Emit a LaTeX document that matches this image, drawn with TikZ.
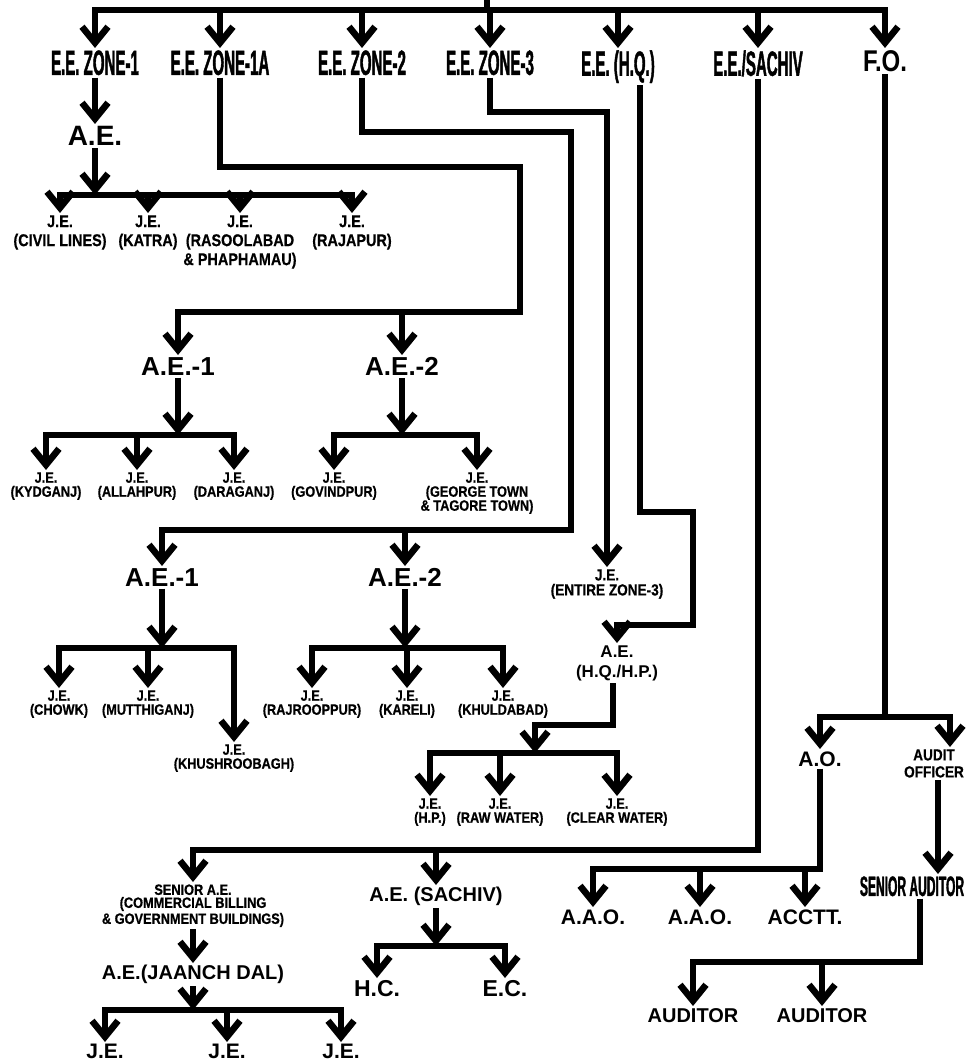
\documentclass[tikz,border=0pt]{standalone}
\usepackage{fontspec}
\setmainfont{Liberation Sans}
\newfontfamily\condfont{Liberation Sans}[FakeStretch=0.43, FakeBold=1.2]
\newfontfamily\slimfont{Liberation Sans}[FakeStretch=0.85, FakeBold=0.6]
\newfontfamily\fofont{Liberation Sans}[FakeStretch=0.8]
\usetikzlibrary{arrows.meta}
\tikzset{
    zonebox/.style = {
        font=\condfont\bfseries\fontsize{17.5}{18}\selectfont,
        anchor=north, inner sep=1pt
    },
    aebox/.style = {
        font=\bfseries\fontsize{13}{14}\selectfont,
        anchor=north, inner sep=1pt
    },
    postbox/.style = {
        font=\bfseries\fontsize{10.5}{11}\selectfont,
        anchor=north, inner sep=1pt
    },
    jebox/.style = {
        font=\slimfont\bfseries\fontsize{7.5}{7}\selectfont,
        anchor=north, inner sep=1pt, align=center
    },
    jebig/.style = {
        jebox, font=\slimfont\bfseries\fontsize{8.5}{9.5}\selectfont
    },
    arrow/.style = {
        -{Straight Barb[length=8pt, width=13pt]}, line width=3.3pt
    }
}

\begin{document}
\begin{tikzpicture}[x=0.5pt, y=-0.5pt]

\fill [white] (0,0) rectangle (974,1064);
\useasboundingbox (0,0) rectangle (974,1064);

% first row
\coordinate (head) at (487,0);
\node (z1) [zonebox] at (95,48) {E.E. ZONE-1};
\node (z1a) [zonebox] at (220,48) {E.E. ZONE-1A};
\node (z2) [zonebox] at (362,48) {E.E. ZONE-2};
\node (z3) [zonebox] at (490,48) {E.E. ZONE-3};
\node (hq) [zonebox] at (618,48) {E.E. (H.Q.)};
\node (sachiv) [zonebox] at (758,48) {E.E./SACHIV};
\node (fo) [zonebox, font=\fofont\bfseries\fontsize{15}{16}\selectfont] at (885,48) {F.O.};
\foreach \n in {z1,z1a,z2,z3,hq,sachiv,fo}
    \draw [arrow] (head) -- ++(0,10) -| (\n.north);

% zone 1
\node (ae1) [aebox, font=\bfseries\fontsize{14}{15}\selectfont] at (95,124) {A.E.};
\coordinate (b1) at (95,195);
\node (jcl) [jebig] at (60,213) {J.E.\\(CIVIL LINES)};
\node (jka) [jebig] at (148,213) {J.E.\\(KATRA)};
\node (jra) [jebig] at (240,213) {J.E.\\(RASOOLABAD\\\& PHAPHAMAU)};
\node (jrj) [jebig] at (352,213) {J.E.\\(RAJAPUR)};
\draw [arrow] (z1.south) -- (ae1.north);
\draw [arrow] (ae1.south) -- (b1);
\foreach \n in {jcl,jka,jra,jrj}
    \draw [arrow] (b1) -| (\n.north);

% zone 1A
\node (a1e1) [aebox] at (178,355) {A.E.-1};
\node (a1e2) [aebox] at (402,355) {A.E.-2};
\coordinate (b1a) at (402,312);
\draw [arrow] (z1a.south) |- (520,167) -- (520,312) -| (a1e1.north);
\draw [arrow] (b1a) -- (a1e2.north);
\coordinate (b1a1) at (178,435);
\coordinate (b1a2) at (402,435);
\node (jky) [jebox] at (46,470) {J.E.\\(KYDGANJ)};
\node (jal) [jebox] at (137,470) {J.E.\\(ALLAHPUR)};
\node (jda) [jebox] at (234,470) {J.E.\\(DARAGANJ)};
\node (jgo) [jebox] at (334,470) {J.E.\\(GOVINDPUR)};
\node (jge) [jebox] at (477,470) {J.E.\\(GEORGE TOWN\\\& TAGORE TOWN)};
\draw [arrow] (a1e1.south) -- (b1a1);
\draw [arrow] (a1e2.south) -- (b1a2);
\foreach \n in {jky,jal,jda}
    \draw [arrow] (b1a1) -| (\n.north);
\foreach \n in {jgo,jge}
    \draw [arrow] (b1a2) -| (\n.north);

% zone 2
\node (a2e1) [aebox] at (162,566) {A.E.-1};
\node (a2e2) [aebox] at (405,566) {A.E.-2};
\coordinate (b2) at (405,530);
\draw [arrow] (z2.south) |- (571,132) -- (571,530) -| (a2e1.north);
\draw [arrow] (b2) -- (a2e2.north);
\coordinate (b2a1) at (162,648);
\coordinate (b2a2) at (405,648);
\node (jch) [jebox] at (59,688) {J.E.\\(CHOWK)};
\node (jmu) [jebox] at (148,688) {J.E.\\(MUTTHIGANJ)};
\node (jkh) [jebox] at (234,742) {J.E.\\(KHUSHROOBAGH)};
\node (jrr) [jebox] at (312,688) {J.E.\\(RAJROOPPUR)};
\node (jkr) [jebox] at (407,688) {J.E.\\(KARELI)};
\node (jkd) [jebox] at (503,688) {J.E.\\(KHULDABAD)};
\draw [arrow] (a2e1.south) -- (b2a1);
\draw [arrow] (a2e2.south) -- (b2a2);
\foreach \n in {jch,jmu,jkh}
    \draw [arrow] (b2a1) -| (\n.north);
\foreach \n in {jrr,jkr,jkd}
    \draw [arrow] (b2a2) -| (\n.north);

% zone 3
\node (jz3) [jebox, font=\slimfont\bfseries\fontsize{8}{7.5}\selectfont] at (607,567) {J.E.\\(ENTIRE ZONE-3)};
\draw [arrow] (z3.south) |- (607,112) -- (jz3.north);

% head quarter
\node (aehq) [jebox, font=\bfseries\fontsize{8.5}{10}\selectfont] at (617,643) {A.E.\\(H.Q./H.P.)};
\draw [arrow] ([xshift=11pt]hq.south) |- (693,512) |- (617,625) -- (aehq.north);
\coordinate (bhq) at (535,753);
\node (jhp) [jebox] at (430,796) {J.E.\\(H.P.)};
\node (jrw) [jebox] at (500,796) {J.E.\\(RAW WATER)};
\node (jcw) [jebox] at (617,796) {J.E.\\(CLEAR WATER)};
\draw [arrow] ([xshift=-2pt]aehq.south) |- (535,725) -- (bhq);
\foreach \n in {jhp,jrw,jcw}
    \draw [arrow] (bhq) -| (\n.north);

% sachiv
\coordinate (bsa) at (436,850);
\node (snr) [jebox, font=\slimfont\bfseries\fontsize{7.5}{6.5}\selectfont] at (193,882) {SENIOR A.E.\\(COMMERCIAL BILLING\\\& GOVERNMENT BUILDINGS)};
\node (aesac) [postbox, font=\bfseries\fontsize{10}{11}\selectfont] at (436,885) {A.E. (SACHIV)};
\draw [arrow] (sachiv.south) |- (bsa) -| (snr.north);
\draw [arrow] (bsa) -- (aesac.north);
\node (jaanch) [postbox, font=\bfseries\fontsize{10}{11}\selectfont] at (193,963) {A.E.(JAANCH DAL)};
\draw [arrow] (snr.south) -- (jaanch.north);
\coordinate (bja) at (193,1010);
\node (jx1) [postbox] at (105,1042) {J.E.};
\node (jx2) [postbox] at (227,1042) {J.E.};
\node (jx3) [postbox] at (341,1042) {J.E.};
\draw [arrow] (jaanch.south) -- (bja);
\foreach \n in {jx1,jx2,jx3}
    \draw [arrow] (bja) -| (\n.north);
\coordinate (bac) at (436,946);
\node (hc) [postbox, font=\bfseries\fontsize{11.5}{12}\selectfont] at (377,978) {H.C.};
\node (ec) [postbox, font=\bfseries\fontsize{11.5}{12}\selectfont] at (505,978) {E.C.};
\draw [arrow] (aesac.south) -- (bac);
\foreach \n in {hc,ec}
    \draw [arrow] (bac) -| (\n.north);

% finance
\coordinate (bfo) at (885,717);
\node (ao) [postbox] at (820,749) {A.O.};
\node (audit) [jebox, font=\slimfont\bfseries\fontsize{8}{8.5}\selectfont] at (934,747) {AUDIT\\OFFICER};
\draw [arrow] (fo.south) -- (bfo) -| (ao.north);
\draw [arrow] (bfo) -| ([xshift=8pt]audit.north);
\node (senaud) [zonebox, font=\condfont\bfseries\fontsize{14}{15}\selectfont] at (912,874) {SENIOR AUDITOR};
\draw [arrow] ([xshift=2pt]audit.south) -- ([xshift=2pt]audit.south |- senaud.north);
\coordinate (bao) at (820,869);
\node (aao1) [postbox] at (593,907) {A.A.O.};
\node (aao2) [postbox] at (700,907) {A.A.O.};
\node (acct) [postbox] at (805,907) {ACCTT.};
\draw [arrow] (ao.south) -- (bao) -| (aao1.north);
\foreach \n in {aao2,acct}
    \draw [arrow] (bao) -| (\n.north);
\coordinate (bsr) at (920,962);
\node (aud1) [postbox, font=\bfseries\fontsize{10}{11}\selectfont] at (693,1006) {AUDITOR};
\node (aud2) [postbox, font=\bfseries\fontsize{10}{11}\selectfont] at (822,1006) {AUDITOR};
\draw [arrow] ([xshift=4pt]senaud.south) -- (bsr) -| (aud1.north);
\draw [arrow] (bsr) -| (aud2.north);

\end{tikzpicture}
\end{document}
